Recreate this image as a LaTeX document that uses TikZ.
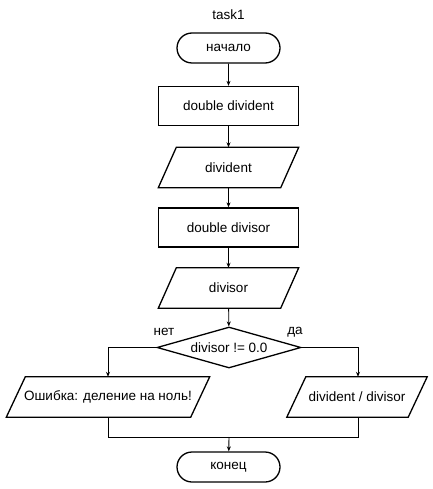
\documentclass[tikz,border=0pt]{standalone}
\usepackage{fontspec}
\setmainfont{Liberation Sans}
\usetikzlibrary{shapes.geometric,shapes.misc,arrows.meta}
\newcommand\paragram[2]{%
  \draw[shapeline] ([xshift=#2/2]#1.north west) -- ([xshift=#2/2]#1.north east)
    -- ([xshift=-#2/2]#1.south east) -- ([xshift=-#2/2]#1.south west) -- cycle;}
\begin{document}
\begin{tikzpicture}[x=1pt,y=-1pt,
  font=\fontsize{13.5}{15}\selectfont,
  shapeline/.style={draw=black,line width=1.3pt,line join=miter},
  base/.style={shapeline,fill=white,inner sep=0pt,anchor=center},
  term/.style={base,rounded rectangle,minimum width=103pt,minimum height=30pt},
  proc/.style={base,rectangle,minimum width=140pt,minimum height=39pt},
  io/.style={rectangle,inner sep=0pt,minimum height=40pt,anchor=center},
  dec/.style={base,diamond,aspect=3.5,minimum width=144pt,minimum height=41pt},
  flow/.style={line width=0.9pt,-{Stealth[length=5pt,width=4pt]}},
  seg/.style={line width=0.9pt}]
\useasboundingbox (0,0) rectangle (432,489);
\node (title) at (228.5,15) {task1};
\node[term] (start) at (228.5,48) {начало};
\node[proc] (p1) at (228.5,106) {double divident};
\node[io,minimum width=122pt] (i1) at (228.5,167.5) {divident};
\paragram{i1}{18pt}
\node[proc] (p2) at (228.5,227.5) {double divisor};
\node[io,minimum width=122pt] (i2) at (228.5,288) {divisor};
\paragram{i2}{18pt}
\node[dec] (d) at (229,347.5) {divisor != 0.0};
\node[io,minimum width=184pt] (l) at (108,397) {Ошибка: деление на ноль!};
\paragram{l}{19pt}
\node[io,minimum width=121pt] (r) at (357,397) {divident / divisor};
\paragram{r}{19pt}
\node[term] (end) at (228.5,467) {конец};
\coordinate (m) at (229,437);
\node (no) at (164,332) {нет};
\node (yes) at (295,332) {да};
\draw[flow] (start) -- (p1);
\draw[flow] (p1) -- (i1);
\draw[flow] (i1) -- (p2);
\draw[flow] (p2) -- (i2);
\draw[flow] (i2) -- (d);
\draw[flow] (d.west) -| (l.north);
\draw[flow] (d.east) -| ([xshift=1pt]r.north);
\draw[seg] (l.south) |- (m);
\draw[seg] ([xshift=1pt]r.south) |- (m);
\draw[flow] (m) -- (end);
\end{tikzpicture}
\end{document}
